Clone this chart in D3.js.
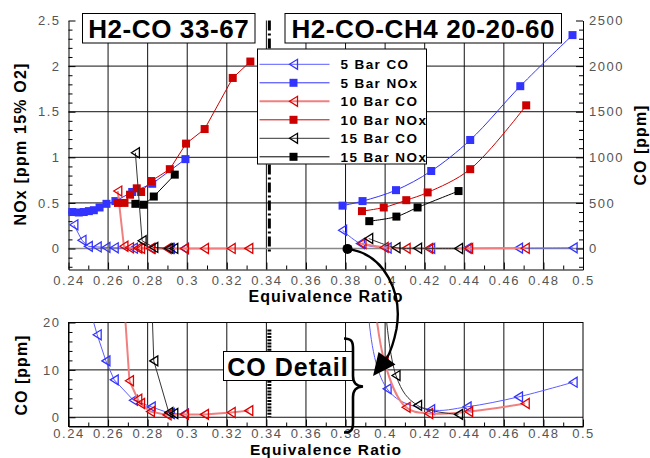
<!DOCTYPE html>
<html>
<head>
<meta charset="utf-8">
<script src="https://cdn.jsdelivr.net/npm/d3@7"></script>
<style>
body { margin: 0; background: #fff; }
svg { display: block; font-family: "Liberation Sans", Arial, sans-serif; }
.axis .tick text { fill: #555; font-size: 13px; letter-spacing: 1.5px; }
.axis path { stroke: #000; }
.axis line { stroke: #000; }
.title { font-weight: bold; fill: #000; }
</style>
</head>
<body>
<svg width="650" height="458"></svg>
<script>
// ---- data ----
// x = equivalence ratio, NOx in ppm @15% O2, CO in ppm
var xTicks = [0.24, 0.26, 0.28, 0.3, 0.32, 0.34, 0.36, 0.38, 0.4, 0.42, 0.44, 0.46, 0.48, 0.5];
var xTickLabels = ["0.24", "0.26", "0.28", "0.3", "0.32", "0.34", "0.36", "0.38", "0.4", "0.42", "0.44", "0.46", "0.48", "0.5"];
var noxTicks = [0, 0.5, 1, 1.5, 2, 2.5];
var noxTickLabels = ["0", "0.5", "1", "1.5", "2", "2.5"];
var coTicks = [0, 500, 1000, 1500, 2000, 2500];
var coTickLabels = ["0", "500", "1000", "1500", "2000", "2500"];
var detailTicks = [0, 10, 20];
var detailTickLabels = ["0", "10", "20"];

var titles = ["H2-CO 33-67", "H2-CO-CH4 20-20-60"];

// H2-CO 33-67 (left group)
var co5Left = [[0.2427, 260], [0.2468, 90], [0.2500, 24], [0.2545, 17.4], [0.2589, 11.9], [0.2631, 7.9], [0.2728, 3.6], [0.2818, 2.2], [0.2915, 0.8], [0.2985, 0.7]];
var nox5Left = [[0.2419, 0.40], [0.2452, 0.395], [0.2477, 0.40], [0.2503, 0.41], [0.2528, 0.42], [0.2557, 0.45], [0.2592, 0.49], [0.2637, 0.52], [0.2722, 0.62], [0.2823, 0.71], [0.2991, 0.98]];
var co10Left = [[0.2649, 630], [0.2680, 25], [0.2708, 7.7], [0.2750, 3.8], [0.2764, 2.9], [0.2814, 1.2], [0.2898, 0.5], [0.2986, 0.6], [0.3087, 0.6], [0.3222, 1.0], [0.3311, 1.4]];
var nox10Left = [[0.2650, 0.50], [0.2683, 0.50], [0.2711, 0.59], [0.2745, 0.66], [0.2767, 0.62], [0.2818, 0.74], [0.2912, 0.87], [0.2994, 1.15], [0.3088, 1.31], [0.3230, 1.87], [0.3319, 2.05]];
var co15Left = [[0.2738, 1050], [0.2772, 85], [0.2831, 11.9], [0.2907, 1.0], [0.2932, 0.8]];
var nox15Left = [[0.2738, 0.49], [0.2780, 0.48], [0.2831, 0.57], [0.2937, 0.81]];

// H2-CO-CH4 20-20-60 (right group)
var co5Right = [[0.3785, 200], [0.3875, 55], [0.4010, 6.0], [0.4230, 1.6], [0.4414, 2.2], [0.4674, 4.3], [0.4950, 7.4]];
var nox5Right = [[0.3785, 0.47], [0.3886, 0.52], [0.4055, 0.64], [0.4233, 0.85], [0.4430, 1.19], [0.4683, 1.78], [0.4947, 2.34]];
var co10Right = [[0.3883, 55], [0.3995, 12], [0.4106, 2.1], [0.4220, 0.8], [0.4422, 1.2], [0.4708, 2.9]];
var nox10Right = [[0.3883, 0.41], [0.3993, 0.45], [0.4107, 0.53], [0.4215, 0.615], [0.4430, 0.87], [0.4713, 1.57]];
var co15Right = [[0.3917, 110], [0.4055, 8.8], [0.4164, 2.5], [0.4371, 0.6]];
var nox15Right = [[0.3920, 0.30], [0.4057, 0.35], [0.4164, 0.45], [0.4371, 0.63]];

// the point the arrow starts from
var arrowStart = [0.381, -0.004];

// series table built from the arrays above
var seriesList = [
  {name: "5 Bar CO",   kind: "co",  left: co5Left,   right: co5Right,   line: "#5c5cff", lw: 1,   mark: "#3333ff"},
  {name: "5 Bar NOx",  kind: "nox", left: nox5Left,  right: nox5Right,  line: "#3333ff", lw: 1,   mark: "#3333ff"},
  {name: "10 Bar CO",  kind: "co",  left: co10Left,  right: co10Right,  line: "#f08080", lw: 2,   mark: "#dd0000"},
  {name: "10 Bar NOx", kind: "nox", left: nox10Left, right: nox10Right, line: "#cc0000", lw: 1,   mark: "#cc0000"},
  {name: "15 Bar CO",  kind: "co",  left: co15Left,  right: co15Right,  line: "#333333", lw: 1,   mark: "#000000"},
  {name: "15 Bar NOx", kind: "nox", left: nox15Left, right: nox15Right, line: "#000000", lw: 1,   mark: "#000000"}
];

var svg = d3.select("svg");

// scales
var x = d3.scaleLinear().domain([0.24, 0.5]).range([68.5, 583]);
var yNox = d3.scaleLinear().domain([-0.23, 2.5]).range([269.5, 20.5]);
var yCo = d3.scaleLinear().domain([-230, 2500]).range([269.5, 20.5]);
var yDet = d3.scaleLinear().domain([-1.95, 20]).range([426.5, 322.5]);

var triPath = "M-4,0L4,-5L4,5Z";

//////////// TOP CHART ////////////
var topChart = svg.append("g");

// grid
var gridX = xTicks.slice(1, -1);
topChart.append("g").selectAll("line")
    .data(gridX).enter().append("line")
    .attr("x1", d => x(d)).attr("x2", d => x(d))
    .attr("y1", yNox(2.5)).attr("y2", yNox(-0.23))
    .attr("stroke", "#111").attr("stroke-width", 1);
topChart.append("g").selectAll("line")
    .data(noxTicks.slice(0, -1)).enter().append("line")
    .attr("x1", x(0.24)).attr("x2", x(0.5))
    .attr("y1", d => yNox(d)).attr("y2", d => yNox(d))
    .attr("stroke", d => d === 0 ? "#888" : "#111")
    .attr("stroke-width", d => d === 0 ? 1.5 : 1);

// separator
topChart.append("line")
    .attr("x1", x(0.3415)).attr("x2", x(0.3415))
    .attr("y1", yNox(2.5)).attr("y2", yNox(-0.05))
    .attr("stroke", "#000").attr("stroke-width", 3)
    .attr("stroke-dasharray", "10,3,2,3");

// axes
var bottomAxis = d3.axisBottom(x).tickValues(xTicks)
    .tickFormat((d, i) => xTickLabels[i]).tickSizeInner(-7).tickSizeOuter(0).tickPadding(6);
topChart.append("g").attr("class", "axis")
    .attr("transform", "translate(0," + yNox(-0.23) + ")").call(bottomAxis);
topChart.append("g").attr("class", "axis")
    .attr("transform", "translate(0," + yNox(-0.23) + ")")
    .call(d3.axisBottom(x).tickValues(d3.range(25, 50, 2).map(d => d / 100)).tickFormat("").tickSize(-4))
    .select(".domain").remove();

var leftAxis = d3.axisLeft(yNox).tickValues(noxTicks)
    .tickFormat((d, i) => noxTickLabels[i]).tickSizeInner(-7).tickSizeOuter(0).tickPadding(8);
topChart.append("g").attr("class", "axis")
    .attr("transform", "translate(" + x(0.24) + ",0)").call(leftAxis);
topChart.append("g").attr("class", "axis")
    .attr("transform", "translate(" + x(0.24) + ",0)")
    .call(d3.axisLeft(yNox).tickValues(d3.range(-2, 25).filter(d => d % 5 !== 0).map(d => d / 10)).tickFormat("").tickSize(-4))
    .select(".domain").remove();

var rightAxis = d3.axisRight(yCo).tickValues(coTicks)
    .tickFormat((d, i) => coTickLabels[i]).tickSizeInner(-7).tickSizeOuter(0).tickPadding(6);
topChart.append("g").attr("class", "axis")
    .attr("transform", "translate(" + x(0.5) + ",0)").call(rightAxis);
topChart.append("g").attr("class", "axis")
    .attr("transform", "translate(" + x(0.5) + ",0)")
    .call(d3.axisRight(yCo).tickValues(d3.range(-2, 25).filter(d => d % 5 !== 0).map(d => d * 100)).tickFormat("").tickSize(-4))
    .select(".domain").remove();

// titles in boxes
var boxes = [[82.5, 255], [285, 561.5]];
titles.forEach(function(t, i) {
  topChart.append("rect")
      .attr("x", boxes[i][0]).attr("y", 13.5)
      .attr("width", boxes[i][1] - boxes[i][0]).attr("height", 29.5)
      .attr("fill", "#fff").attr("stroke", "#000").attr("stroke-width", 1);
  topChart.append("text").attr("class", "title")
      .attr("x", (boxes[i][0] + boxes[i][1]) / 2).attr("y", 37.5)
      .attr("text-anchor", "middle")
      .style("font-size", "26px").style("letter-spacing", "0.6px")
      .text(t);
});

// legend
var legend = topChart.append("g").attr("transform", "translate(257.5,49)");
legend.append("rect").attr("width", 169).attr("height", 115)
    .attr("fill", "#fff").attr("stroke", "#000");
seriesList.forEach(function(s, i) {
  var ly = 15.3 + i * 18.5;
  legend.append("line").attr("x1", 2).attr("x2", 72).attr("y1", ly).attr("y2", ly)
      .attr("stroke", s.line).attr("stroke-width", s.lw);
  drawMark(legend, 36, ly, s);
  legend.append("text").attr("x", 83).attr("y", ly + 4.8)
      .style("font-size", "13.5px").style("font-weight", "bold").style("letter-spacing", "1.4px")
      .text(s.name);
});

// series
var lineLeft = d3.line().x(d => x(d[0])).curve(d3.curveLinear);
var lineRight = d3.line().x(d => x(d[0])).curve(d3.curveCatmullRom.alpha(0.5));

var seriesLayer = topChart.append("g");
seriesList.forEach(function(s) {
  var ys = s.kind === "co" ? yCo : yNox;
  drawSeries(seriesLayer, s.left, ys, s, lineLeft);
  drawSeries(seriesLayer, s.right, ys, s, lineRight);
});

// axis titles
svg.append("text").attr("class", "title")
    .attr("transform", "translate(26," + 144 + ") rotate(-90)")
    .attr("text-anchor", "middle")
    .style("font-size", "16px").style("letter-spacing", "1.2px")
    .text("NOx [ppm 15% O2]");
svg.append("text").attr("class", "title")
    .attr("transform", "translate(646," + 145 + ") rotate(-90)")
    .attr("text-anchor", "middle")
    .style("font-size", "16px").style("letter-spacing", "1px")
    .text("CO [ppm]");
svg.append("text").attr("class", "title")
    .attr("x", 326).attr("y", 302)
    .attr("text-anchor", "middle")
    .style("font-size", "16px").style("letter-spacing", "1px")
    .text("Equivalence Ratio");

//////////// BOTTOM (CO DETAIL) CHART ////////////
var det = svg.append("g");

det.append("clipPath").attr("id", "detclip")
  .append("rect").attr("x", x(0.24)).attr("y", yDet(20))
    .attr("width", x(0.5) - x(0.24)).attr("height", yDet(-1.95) - yDet(20));

det.append("g").selectAll("line")
    .data(gridX).enter().append("line")
    .attr("x1", d => x(d)).attr("x2", d => x(d))
    .attr("y1", yDet(20)).attr("y2", yDet(-1.95))
    .attr("stroke", "#111");
det.append("g").selectAll("line")
    .data([0, 10]).enter().append("line")
    .attr("x1", x(0.24)).attr("x2", x(0.5))
    .attr("y1", d => yDet(d)).attr("y2", d => yDet(d))
    .attr("stroke", "#111");

det.append("line")
    .attr("x1", x(0.3415)).attr("x2", x(0.3415))
    .attr("y1", yDet(18.5)).attr("y2", yDet(0.1))
    .attr("stroke", "#000").attr("stroke-width", 4)
    .attr("stroke-dasharray", "2,1.2");

det.append("g").attr("class", "axis")
    .attr("transform", "translate(0," + yDet(-1.95) + ")")
    .call(d3.axisBottom(x).tickValues(xTicks).tickFormat((d, i) => xTickLabels[i])
      .tickSizeInner(-7).tickSizeOuter(0).tickPadding(2));
det.append("g").attr("class", "axis")
    .attr("transform", "translate(0," + yDet(-1.95) + ")")
    .call(d3.axisBottom(x).tickValues(d3.range(25, 50, 2).map(d => d / 100)).tickFormat("").tickSize(-4))
    .select(".domain").remove();
det.append("g").attr("class", "axis")
    .attr("transform", "translate(" + x(0.24) + ",0)")
    .call(d3.axisLeft(yDet).tickValues(detailTicks).tickFormat((d, i) => detailTickLabels[i])
      .tickSizeInner(-7).tickSizeOuter(0).tickPadding(8));
det.append("g").attr("class", "axis")
    .attr("transform", "translate(" + x(0.24) + ",0)")
    .call(d3.axisLeft(yDet).tickValues([2, 4, 6, 8, 12, 14, 16, 18]).tickFormat("").tickSize(-4))
    .select(".domain").remove();

// frame
det.append("rect")
    .attr("x", x(0.24)).attr("y", yDet(20))
    .attr("width", x(0.5) - x(0.24)).attr("height", yDet(-1.95) - yDet(20))
    .attr("fill", "none").attr("stroke", "#000");

var detLayer = det.append("g").attr("clip-path", "url(#detclip)");
seriesList.filter(s => s.kind === "co").forEach(function(s) {
  drawSeries(detLayer, s.left, yDet, s, lineLeft);
  drawSeries(detLayer, s.right, yDet, s, lineRight);
});

svg.append("text").attr("class", "title")
    .attr("transform", "translate(27," + 375 + ") rotate(-90)")
    .attr("text-anchor", "middle")
    .style("font-size", "16px").style("letter-spacing", "1px")
    .text("CO [ppm]");
svg.append("text").attr("class", "title")
    .attr("x", 326).attr("y", 454.5)
    .attr("text-anchor", "middle")
    .style("font-size", "15.5px").style("letter-spacing", "1.1px")
    .text("Equivalence Ratio");

// "CO Detail" callout
svg.append("rect")
    .attr("x", 223.5).attr("y", 351.5).attr("width", 129).attr("height", 29)
    .attr("fill", "#fff").attr("stroke", "#000");
svg.append("text").attr("class", "title")
    .attr("x", 288).attr("y", 375.5).attr("text-anchor", "middle")
    .style("font-size", "25px").style("letter-spacing", "1px")
    .text("CO Detail");

// brace
svg.append("path")
    .attr("d", "M344,338.5 C351,338.5 353,341 353,348 L353,376 C353,383 356,386 363,386.5 C356,387 353,390 353,397 L353,423 C353,430 351,432.5 344,432.5")
    .attr("fill", "none").attr("stroke", "#000").attr("stroke-width", 2.6);

// arrow from the marked point down to the detail
var ax = x(arrowStart[0]), ay = yNox(arrowStart[1]);
svg.append("path")
    .attr("d", "M" + ax + "," + ay + " C" + (ax + 38) + "," + (ay + 5) + " " + (ax + 55) + "," + (ay + 45) + " " + (ax + 49) + "," + (ay + 80) +
      " C" + (ax + 46) + "," + (ay + 95) + " " + (ax + 43) + "," + (ay + 103) + " " + (ax + 39) + "," + (ay + 110))
    .attr("fill", "none").attr("stroke", "#000").attr("stroke-width", 2.4);
svg.append("path")
    .attr("d", "M" + (ax + 31) + "," + (ay + 103) + " L" + (ax + 48) + "," + (ay + 115.5) + " L" + (ax + 25.5) + "," + (ay + 127) + " Z")
    .attr("fill", "#000");
svg.append("circle")
    .attr("cx", ax).attr("cy", ay).attr("r", 5).attr("fill", "#000");

//////////// FUNCTIONS ////////////
function drawMark(g, cx, cy, s) {
  if (s.kind === "co") {
    g.append("path").attr("d", triPath)
        .attr("transform", "translate(" + cx + "," + cy + ")")
        .attr("fill", "none").attr("stroke", s.mark).attr("stroke-width", 1.3);
  } else {
    g.append("rect").attr("x", cx - 4).attr("y", cy - 4)
        .attr("width", 8).attr("height", 8).attr("fill", s.mark);
  }
}

function drawSeries(g, data, ys, s, lineGen) {
  g.append("path")
      .attr("d", lineGen.y(d => ys(d[1]))(data))
      .attr("fill", "none").attr("stroke", s.line).attr("stroke-width", s.lw);
  data.forEach(function(d) {
    drawMark(g, x(d[0]), ys(d[1]), s);
  });
}
</script>
</body>
</html>
